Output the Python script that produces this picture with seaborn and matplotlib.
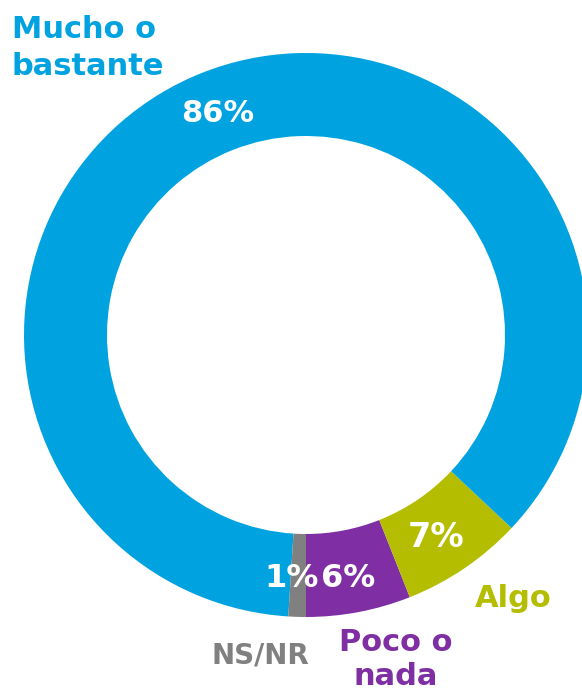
import matplotlib
matplotlib.use("Agg")
import matplotlib.pyplot as plt
import seaborn as sns

# Data (counterclockwise from the bottom)
categories = ["Poco o nada", "Algo", "Mucho o bastante", "NS/NR"]
values = [6, 7, 86, 1]
pct_labels = ["6%", "7%", "86%", "1%"]
colors = ["#7F2FA3", "#B4BD00", "#00A3E0", "#808080"]

sns.set_theme(style="white")
plt.rcParams["font.family"] = ["DejaVu Sans"]

W, H = 582, 693
fig = plt.figure(figsize=(W / 100, H / 100), dpi=100)
ax = fig.add_axes([0, 0, 1, 1])

cx, cy, R = 306, H - 335, 282
ax.pie(values, colors=colors, startangle=-90, counterclock=True,
       radius=R, center=(cx, cy),
       wedgeprops=dict(width=83, linewidth=0, antialiased=True))
ax.set_xlim(0, W)
ax.set_ylim(0, H)
ax.set_aspect("equal")
ax.axis("off")

def T(x, y_top, s, color, size, ha="center", **kw):
    ax.text(x, H - y_top, s, color=color, fontsize=size, fontweight="bold",
            ha=ha, va="baseline", **kw)

# category labels (y = baseline of the last line)
T(12, 75, "Mucho o\nbastante", colors[2], 22, ha="left", linespacing=1.36,
  multialignment="left")
T(513, 607, "Algo", colors[1], 22)
T(396, 685, "Poco o\nnada", colors[0], 22, linespacing=1.2,
  multialignment="center")
T(260, 663, "NS/NR", colors[3], 20)

# percentages
T(218, 122, pct_labels[2], "white", 22)
T(436, 547, pct_labels[1], "white", 24)
T(321, 587, pct_labels[0], "white", 23, ha="left")
T(319, 587, pct_labels[3], "white", 23, ha="right")

fig.savefig("out.png", dpi=100, facecolor="white")
